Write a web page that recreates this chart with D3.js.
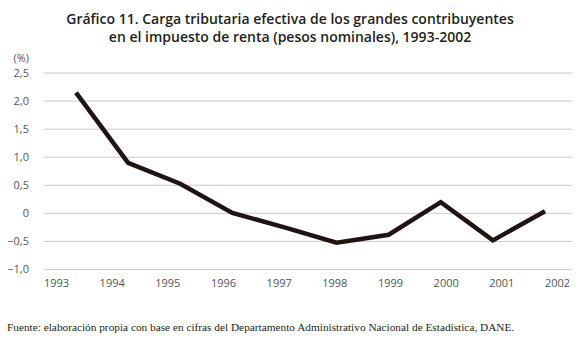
<!DOCTYPE html>
<html>
<head>
  <meta charset="utf-8">
  <title>Gráfico 11</title>
  <script src="https://d3js.org/d3.v7.min.js"></script>
  <style>
    body { margin: 0; background: #fff; }
  </style>
</head>
<body>
<div id="chart"></div>
<script type="text/javascript">

  var years = ["1993", "1994", "1995", "1996", "1997", "1998", "1999", "2000", "2001", "2002"];
  var carga = [2.14, 0.89, 0.52, 0.0, -0.26, -0.53, -0.39, 0.19, -0.49, 0.03];
  var yTicks = [2.5, 2.0, 1.5, 1.0, 0.5, 0, -0.5, -1.0];
  var titleLines = [
    "Gráfico 11. Carga tributaria efectiva de los grandes contribuyentes",
    "en el impuesto de renta (pesos nominales), 1993-2002"
  ];
  var unitLabel = "(%)";
  var source = "Fuente: elaboración propia con base en cifras del Departamento Administrativo Nacional de Estadística, DANE.";

  var w = 580, h = 342;

  var svg = d3.select("#chart").append("svg")
          .attr("width", w)
          .attr("height", h)

  // axis labels and the line sit on slightly different spacing in the original
  var x = d3.scalePoint().domain(years).range([56, 557]);
  var xLine = d3.scalePoint().domain(years).range([76, 545]);

  var y = d3.scaleLinear()
          .domain([-1.0, 2.5])
          .range([269, 72.5]);

  function fmt(v) {
    if (v === 0) return "0";
    return d3.format(".1f")(v).replace(".", ",");
  }

  // title
  svg.selectAll(".title")
          .data(titleLines)
          .enter()
          .append("text")
          .attr("class", "title")
          .attr("x", 290)
          .attr("y", function(d, i){ return 24 + i * 18 })
          .attr("text-anchor", "middle")
          .style("font-family", "'Open Sans', sans-serif")
          .style("font-weight", 600)
          .style("font-size", "14px")
          .style("fill", "#231f20")
          .text(function(d){ return d })

  // grid
  var yAxis = d3.axisLeft(y)
          .tickValues(yTicks)
          .tickSize(-(572 - 44))
          .tickPadding(15)
          .tickFormat(fmt)

  var gy = svg.append("g")
          .attr("transform", "translate(44,0)")
          .call(yAxis)
  gy.select(".domain").remove()
  gy.selectAll(".tick line").attr("stroke", "#c9c9c9").attr("stroke-width", 1)
  gy.selectAll(".tick text")
          .style("font-family", "'Open Sans', sans-serif")
          .style("font-size", "11px")
          .style("fill", "#555")

  svg.append("text")
          .attr("x", 29)
          .attr("y", 62)
          .attr("text-anchor", "end")
          .style("font-family", "'Open Sans', sans-serif")
          .style("font-size", "11px")
          .style("fill", "#555")
          .text(unitLabel)

  var xAxis = d3.axisBottom(x)
          .tickSize(0)
          .tickPadding(0)

  var gx = svg.append("g")
          .attr("transform", "translate(0,279)")
          .call(xAxis)
  gx.select(".domain").remove()
  gx.selectAll(".tick text")
          .style("font-family", "'Open Sans', sans-serif")
          .style("font-size", "11px")
          .style("fill", "#555")

  var line = d3.line()
          .x(function(d, i){ return xLine(years[i]) })
          .y(function(d){ return y(d) })

  svg.append("path")
          .datum(carga)
          .attr("d", line)
          .attr("fill", "none")
          .attr("stroke", "#1e1512")
          .attr("stroke-width", 4.5)
          .attr("stroke-linejoin", "miter")

  svg.append("text")
          .attr("x", 7)
          .attr("y", 331)
          .style("font-family", "'Liberation Serif', serif")
          .style("font-size", "11.3px")
          .style("fill", "#231f20")
          .text(source)

</script>
</body>
</html>
